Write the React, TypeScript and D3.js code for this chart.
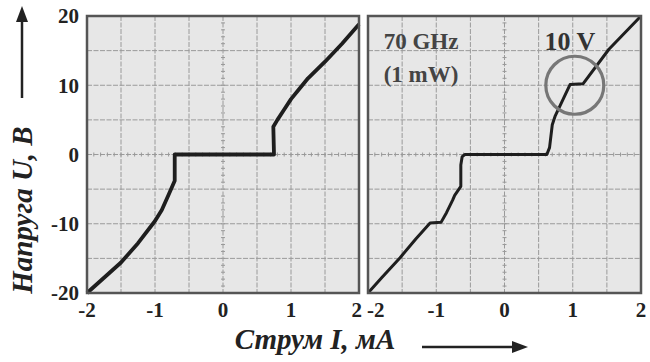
import React, { useEffect, useRef } from 'react';
import * as d3 from 'd3';

// tick labels
const currentTicks = [-2, -1, 0, 1, 2];
const voltageTicks = [20, 10, 0, -10, -20];
const currentGrid = [-1.5, -1, -0.5, 0, 0.5, 1, 1.5];
const voltageGrid = [15, 10, 5, 0, -5, -10, -15];

// left panel: no irradiation
const leftCurrent = [-2, -1.75, -1.5, -1.25, -1, -0.9, -0.8, -0.71, -0.71, 0.75, 0.74, 0.8, 0.9, 1, 1.1, 1.25, 1.5, 1.75, 2];
const leftVoltage = [-20, -17.8, -15.6, -12.8, -9.6, -8, -5.8, -3.8, 0, 0, 4, 5, 6.5, 8, 9.2, 11, 13.4, 16, 18.8];

// right panel: 70 GHz (1 mW)
const rightCurrent = [-2, -1.8, -1.53, -1.3, -1.09, -0.93, -0.85, -0.76, -0.73, -0.64, -0.64, -0.62, -0.58, 0.62, 0.66, 0.7, 0.74, 0.96, 1.15, 1.53, 2];
const rightVoltage = [-20, -17.8, -14.9, -12.2, -9.9, -9.8, -8.4, -6.6, -5.9, -4.6, -1.5, -0.3, 0, 0, 1, 4.3, 5.5, 10.1, 10.2, 15.2, 20];

const stepMark = { current: 1.03, voltage: 10 };

const App = () => {
  const svgRef = useRef(null);

  useEffect(() => {
    const svg = d3.select(svgRef.current);
    svg.selectAll('*').remove();

    const width = 650;
    const height = 362;
    const top = 16;
    const bottom = 293;
    const panels = [
      { left: 87, right: 359, I: leftCurrent, U: leftVoltage, lw: 3.8 },
      { left: 368, right: 641, I: rightCurrent, U: rightVoltage, lw: 3 },
    ];

    const yScale = d3.scaleLinear().domain([-20, 20]).range([bottom, top]);
    const font = '"Liberation Serif", "DejaVu Serif", serif';

    svg.append('rect').attr('width', width).attr('height', height).attr('fill', '#fff');

    panels.forEach((p, k) => {
      const xScale = d3.scaleLinear().domain([-2, 2]).range([p.left, p.right]);
      const g = svg.append('g');

      g.append('rect')
        .attr('x', p.left)
        .attr('y', top)
        .attr('width', p.right - p.left)
        .attr('height', bottom - top)
        .attr('fill', '#e7e7e7');

      // grid
      g.selectAll('.vg')
        .data(currentGrid)
        .enter()
        .append('line')
        .attr('x1', (d) => xScale(d))
        .attr('x2', (d) => xScale(d))
        .attr('y1', top)
        .attr('y2', bottom)
        .attr('stroke', '#9a9a9a')
        .attr('stroke-width', 1)
        .attr('stroke-dasharray', '5,1.5');

      g.selectAll('.hg')
        .data(voltageGrid)
        .enter()
        .append('line')
        .attr('x1', p.left)
        .attr('x2', p.right)
        .attr('y1', (d) => yScale(d))
        .attr('y2', (d) => yScale(d))
        .attr('stroke', '#9a9a9a')
        .attr('stroke-width', 1)
        .attr('stroke-dasharray', '5,1.5');

      // minor ticks along the centre lines (scope graticule)
      const minorI = d3.range(-2, 2.001, 0.1);
      const minorU = d3.range(-20, 20.001, 1);
      g.selectAll('.mi')
        .data(minorI)
        .enter()
        .append('line')
        .attr('x1', (d) => xScale(d))
        .attr('x2', (d) => xScale(d))
        .attr('y1', yScale(0) - 2)
        .attr('y2', yScale(0) + 2)
        .attr('stroke', '#999');
      g.selectAll('.mu')
        .data(minorU)
        .enter()
        .append('line')
        .attr('x1', xScale(0) - 2)
        .attr('x2', xScale(0) + 2)
        .attr('y1', (d) => yScale(d))
        .attr('y2', (d) => yScale(d))
        .attr('stroke', '#999');

      // I-V trace
      const line = d3
        .line()
        .x((d) => xScale(d[0]))
        .y((d) => yScale(d[1]));
      g.append('path')
        .datum(p.I.map((v, i) => [v, p.U[i]]))
        .attr('d', line)
        .attr('fill', 'none')
        .attr('stroke', '#1e1e1e')
        .attr('stroke-width', p.lw)
        .attr('stroke-linejoin', 'round');

      g.append('rect')
        .attr('x', p.left)
        .attr('y', top)
        .attr('width', p.right - p.left)
        .attr('height', bottom - top)
        .attr('fill', 'none')
        .attr('stroke', '#555')
        .attr('stroke-width', 2.5);

      // x tick labels (outer ends pulled apart so "2 -2" don't collide)
      g.selectAll('.xt')
        .data(currentTicks)
        .enter()
        .append('text')
        .attr('x', (d) => {
          if (k === 0 && d === 2) return xScale(d) + 3;
          if (k === 1 && d === -2) return xScale(d) - 1;
          return xScale(d);
        })
        .attr('y', 317)
        .attr('text-anchor', (d) => {
          if (k === 0 && d === 2) return 'end';
          if (k === 1 && d === -2) return 'start';
          return 'middle';
        })
        .attr('font-family', font)
        .attr('font-weight', 'bold')
        .attr('font-size', 21)
        .attr('fill', '#222')
        .text((d) => d);

      if (k === 1) {
        g.append('circle')
          .attr('cx', xScale(stepMark.current))
          .attr('cy', yScale(stepMark.voltage))
          .attr('r', 29)
          .attr('fill', 'none')
          .attr('stroke', '#777')
          .attr('stroke-width', 3.2);

        g.append('text')
          .attr('x', 570)
          .attr('y', 50)
          .attr('text-anchor', 'middle')
          .attr('font-family', font)
          .attr('font-weight', 'bold')
          .attr('font-size', 26)
          .attr('fill', '#333')
          .text('10 V');

        g.append('text')
          .attr('x', 421)
          .attr('y', 49)
          .attr('text-anchor', 'middle')
          .attr('font-family', font)
          .attr('font-weight', 'bold')
          .attr('font-size', 23)
          .attr('fill', '#444')
          .text('70 GHz');
        g.append('text')
          .attr('x', 421)
          .attr('y', 82)
          .attr('text-anchor', 'middle')
          .attr('font-family', font)
          .attr('font-weight', 'bold')
          .attr('font-size', 23)
          .attr('fill', '#444')
          .text('(1 mW)');
      }
    });

    // y tick labels
    svg
      .selectAll('.yt')
      .data(voltageTicks)
      .enter()
      .append('text')
      .attr('x', 79)
      .attr('y', (d) => yScale(d))
      .attr('dy', '0.35em')
      .attr('text-anchor', 'end')
      .attr('font-family', font)
      .attr('font-weight', 'bold')
      .attr('font-size', 21)
      .attr('fill', '#222')
      .text((d) => d);

    // axis titles with arrows
    svg
      .append('text')
      .attr('transform', 'translate(32, 210) rotate(-90)')
      .attr('text-anchor', 'middle')
      .attr('font-family', font)
      .attr('font-weight', 'bold')
      .attr('font-style', 'italic')
      .attr('font-size', 29)
      .attr('fill', '#222')
      .text('Напруга U, В');

    svg.append('line').attr('x1', 22).attr('x2', 22).attr('y1', 98).attr('y2', 20).attr('stroke', '#222').attr('stroke-width', 2.5);
    svg.append('path').attr('d', 'M22,6 L16,22 L28,22 Z').attr('fill', '#222');

    svg
      .append('text')
      .attr('x', 315)
      .attr('y', 349)
      .attr('text-anchor', 'middle')
      .attr('font-family', font)
      .attr('font-weight', 'bold')
      .attr('font-style', 'italic')
      .attr('font-size', 29)
      .attr('fill', '#222')
      .text('Струм I, мА');

    svg.append('line').attr('x1', 422).attr('x2', 514).attr('y1', 347).attr('y2', 347).attr('stroke', '#222').attr('stroke-width', 2.5);
    svg.append('path').attr('d', 'M528,347 L512,341 L512,353 Z').attr('fill', '#222');
  }, []);

  return <svg ref={svgRef} width={650} height={362} style={{ position: 'absolute', left: 0, top: 0 }} />;
};

export default App;
